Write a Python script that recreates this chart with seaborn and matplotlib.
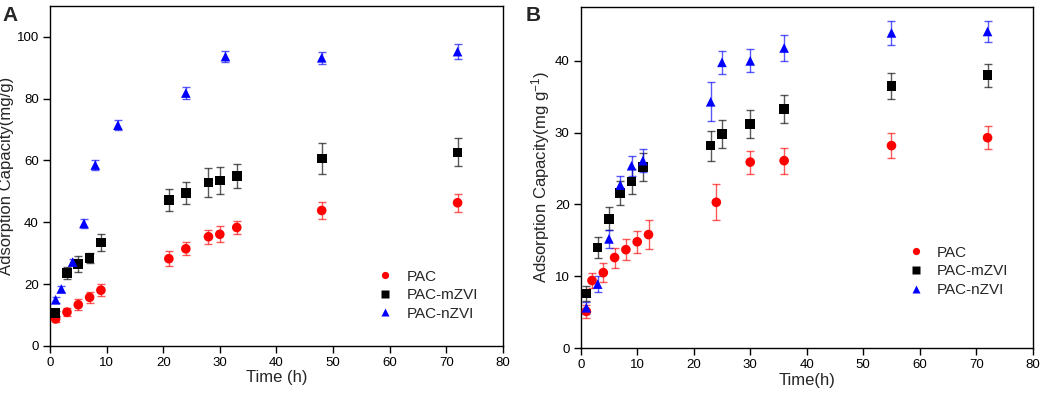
import numpy as np
import pandas as pd
import matplotlib
matplotlib.use('Agg')
import matplotlib.pyplot as plt
import seaborn as sns

# 데이터 (A)
a_pac_t = [1, 3, 5, 7, 9, 21, 24, 28, 30, 33, 48, 72]
a_pac_q = [8.7, 10.9, 13.3, 15.7, 18.0, 28.2, 31.4, 35.3, 36.1, 38.3, 43.8, 46.3]
a_pac_e = [1.0, 1.3, 1.8, 1.8, 2.0, 2.5, 2.1, 2.3, 2.6, 2.2, 2.8, 2.9]

a_m_t = [1, 3, 5, 7, 9, 21, 24, 28, 30, 33, 48, 72]
a_m_q = [10.6, 23.5, 26.5, 28.4, 33.4, 47.1, 49.5, 52.8, 53.5, 55.0, 60.6, 62.6]
a_m_e = [0.8, 2.0, 2.5, 1.7, 2.8, 3.5, 3.6, 4.7, 4.4, 3.8, 4.9, 4.5]

a_n_t = [1, 2, 4, 6, 8, 12, 24, 31, 48, 72]
a_n_q = [14.9, 18.4, 27.1, 39.6, 58.5, 71.4, 81.8, 93.6, 93.2, 95.2]
a_n_e = [1.0, 1.0, 1.0, 1.5, 1.5, 1.6, 1.8, 1.9, 2.0, 2.4]

# 데이터 (B)
b_pac_t = [1, 2, 4, 6, 8, 10, 12, 24, 30, 36, 55, 72]
b_pac_q = [5.1, 9.4, 10.5, 12.6, 13.7, 14.8, 15.8, 20.3, 25.9, 26.1, 28.2, 29.3]
b_pac_e = [0.9, 1.0, 1.3, 1.4, 1.5, 1.5, 2.0, 2.5, 1.6, 1.8, 1.7, 1.6]

b_m_t = [1, 3, 5, 7, 9, 11, 23, 25, 30, 36, 55, 72]
b_m_q = [7.6, 14.0, 18.0, 21.6, 23.2, 25.2, 28.2, 29.8, 31.2, 33.3, 36.5, 38.0]
b_m_e = [1.0, 1.4, 1.6, 1.7, 1.7, 2.0, 2.1, 1.9, 2.0, 1.9, 1.8, 1.6]

b_n_t = [1, 3, 5, 7, 9, 11, 23, 25, 30, 36, 55, 72]
b_n_q = [5.6, 8.9, 15.2, 22.7, 25.4, 26.1, 34.3, 39.8, 40.0, 41.8, 43.9, 44.1]
b_n_e = [0.8, 1.1, 1.3, 1.3, 1.4, 1.6, 2.7, 1.6, 1.6, 1.8, 1.7, 1.5]

names = ['PAC', 'PAC-mZVI', 'PAC-nZVI']
colors = {'PAC': '#ff0000', 'PAC-mZVI': '#000000', 'PAC-nZVI': '#0000ff'}
markers = {'PAC': 'o', 'PAC-mZVI': 's', 'PAC-nZVI': '^'}


def make_df(series):
    rows = []
    for name, (t, q, e) in zip(names, series):
        for ti, qi, ei in zip(t, q, e):
            rows.append({'time': ti, 'q': qi, 'err': ei, 'sample': name})
    return pd.DataFrame(rows)


df_a = make_df([(a_pac_t, a_pac_q, a_pac_e), (a_m_t, a_m_q, a_m_e), (a_n_t, a_n_q, a_n_e)])
df_b = make_df([(b_pac_t, b_pac_q, b_pac_e), (b_m_t, b_m_q, b_m_e), (b_n_t, b_n_q, b_n_e)])

sns.set_style('ticks')
plt.rcParams['font.family'] = ['Liberation Sans', 'DejaVu Sans']
plt.rcParams['mathtext.default'] = 'regular'

fig = plt.figure(figsize=(10.52, 3.93), dpi=100)
ax1 = fig.add_axes([0.0475, 0.12, 0.4305, 0.865])
ax2 = fig.add_axes([0.552, 0.1145, 0.4297, 0.8675])


def draw(ax, df, ylim, yticks, xlabel, ylabel, legend_loc):
    for name in names:
        sub = df[df['sample'] == name]
        ax.errorbar(sub['time'], sub['q'], yerr=sub['err'], fmt='none',
                    ecolor=colors[name], alpha=0.65, elinewidth=1, capsize=3,
                    capthick=1, zorder=2)
    sns.scatterplot(data=df, x='time', y='q', hue='sample', style='sample',
                    palette=colors, markers=markers, hue_order=names,
                    style_order=names, s=48, edgecolor='none', ax=ax, zorder=3)
    ax.set_xlim(0, 80)
    ax.set_ylim(*ylim)
    ax.set_xticks(range(0, 81, 10))
    ax.set_yticks(yticks)
    ax.tick_params(direction='out', length=5, width=1, pad=3, labelsize=9.5,
                   colors='black')
    for s in ax.spines.values():
        s.set_linewidth(1.0)
        s.set_color('black')
    ax.set_xlabel(xlabel, fontsize=12, labelpad=1)
    ax.set_ylabel(ylabel, fontsize=12, labelpad=2)
    h, l = ax.get_legend_handles_labels()
    ax.legend(h, l, loc='upper left', bbox_to_anchor=legend_loc, frameon=False,
              fontsize=11, handlelength=1.2, handletextpad=0.8,
              labelspacing=0.3, markerscale=0.75)


draw(ax1, df_a, (0, 110), range(0, 101, 20), 'Time (h)',
     'Adsorption Capacity(mg/g)', (0.69, 0.265))
draw(ax2, df_b, (0, 47.5), range(0, 41, 10), 'Time(h)',
     'Adsorption Capacity(mg g$^{-1}$)', (0.69, 0.34))

fig.text(0.002, 0.985, 'A', fontsize=15, fontweight='bold', va='top')
fig.text(0.50, 0.985, 'B', fontsize=15, fontweight='bold', va='top')

fig.savefig('out.png', dpi=100)
